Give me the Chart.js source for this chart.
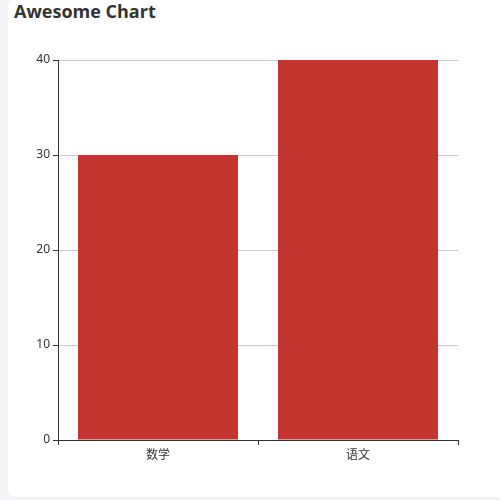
<!DOCTYPE html>
<html lang="zh">
<head>
    <meta charset="UTF-8">
    <title>Awesome Chart</title>
    <script src="https://cdn.jsdelivr.net/npm/chart.js"></script>
    <style>
        html, body {
            margin: 0;
            padding: 0;
            width: 500px;
            height: 500px;
            overflow: hidden;
            background: #f3f3f8;
        }
        .card {
            position: absolute;
            left: 8px;
            top: 0;
            width: 500px;
            height: 497px;
            background: #fff;
            border-radius: 6px;
        }
        .title {
            position: absolute;
            left: 14px;
            top: -1px;
            font: bold 18px "Open Sans", "Noto Sans", sans-serif;
            color: #333;
        }
        canvas {
            position: absolute;
            left: 0;
            top: 0;
        }
    </style>
</head>
<body>
    <div class="card"></div>
    <div class="title">Awesome Chart</div>
    <canvas id="myChart" width="500" height="500"></canvas>

    <script>
        // 数据
        const categories = ['数学', '语文'];
        const scores = [30, 40];
        const yTicks = [0, 10, 20, 30, 40];

        Chart.defaults.font.family = '"Noto Sans", "Noto Sans CJK SC", sans-serif';
        Chart.defaults.font.size = 12;
        Chart.defaults.color = '#333';

        const ctx = document.getElementById('myChart').getContext('2d');
        const myChart = new Chart(ctx, {
            type: 'bar',
            data: {
                labels: categories,
                datasets: [{
                    data: scores,
                    backgroundColor: '#c23531',
                    barPercentage: 0.8,
                    categoryPercentage: 1.0
                }]
            },
            options: {
                responsive: false,
                animation: false,
                layout: {
                    padding: { top: 60, right: 42, bottom: 30, left: 0 }
                },
                plugins: {
                    legend: { display: false },
                    tooltip: { enabled: false }
                },
                scales: {
                    x: {
                        offset: true,
                        grid: {
                            offset: true,
                            drawOnChartArea: false,
                            tickColor: '#333',
                            tickLength: 5
                        },
                        border: { color: '#333', width: 1 },
                        ticks: { padding: 3, color: '#333' },
                        afterFit: function (scale) { scale.height = 30; }
                    },
                    y: {
                        min: yTicks[0],
                        max: yTicks[yTicks.length - 1],
                        ticks: { stepSize: 10, padding: 3, color: '#333' },
                        grid: {
                            color: '#ccc',
                            tickColor: '#333',
                            tickLength: 5
                        },
                        border: { color: '#333', width: 1 },
                        afterFit: function (scale) { scale.width = 58; }
                    }
                }
            }
        });
    </script>
</body>
</html>
